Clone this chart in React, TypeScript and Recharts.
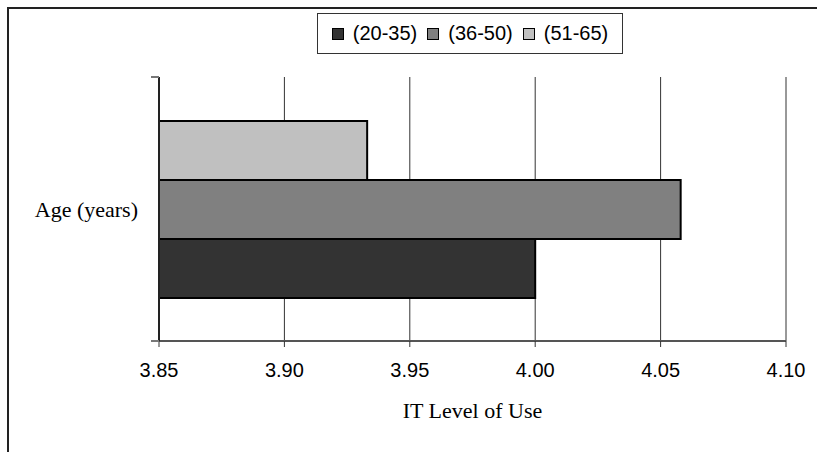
import React from "react";
import {
  BarChart,
  Bar,
  XAxis,
  YAxis,
  CartesianGrid,
} from "recharts";

// Mean IT level of use per age group
const categories = ["Age (years)"];
const ageGroups = ["(20-35)", "(36-50)", "(51-65)"];
const useLevels = [4.0, 4.058, 3.933];
const groupColors = ["#333333", "#808080", "#c0c0c0"];
const xTicks = [3.85, 3.9, 3.95, 4.0, 4.05, 4.1];

const data = categories.map((cat) => {
  const row: any = { category: cat };
  ageGroups.forEach((g, i) => {
    row[g] = useLevels[i];
  });
  return row;
});

const SANS = "'Liberation Sans', Arial, sans-serif";
const SERIF = "'Liberation Serif', 'Times New Roman', serif";

// Category label plus the small marks at the band edges
function CategoryTick(props: any) {
  const { x, y, payload } = props;
  const half = payload?.offset ?? 132;
  const axisX = x + 21;
  return (
    <g>
      <line x1={axisX - 8} x2={axisX} y1={y - half} y2={y - half} stroke="#777" strokeWidth={2} />
      <line x1={axisX - 8} x2={axisX} y1={y + half} y2={y + half} stroke="#777" strokeWidth={2} />
      <text
        x={x}
        y={y}
        dy="0.35em"
        textAnchor="end"
        fontFamily={SERIF}
        fontSize={22}
        fill="#000"
      >
        {payload.value}
      </text>
    </g>
  );
}

function LegendBox() {
  return (
    <div
      style={{
        position: "absolute",
        top: 13,
        left: 317,
        display: "flex",
        alignItems: "center",
        justifyContent: "center",
        gap: 10,
        border: "1px solid #333",
        height: 39,
        width: 304,
        boxSizing: "content-box",
        background: "#fff",
        fontFamily: SANS,
        fontSize: 20,
        color: "#000",
        zIndex: 2,
      }}
    >
      {ageGroups.map((g, i) => (
        <div key={g} style={{ display: "flex", alignItems: "center", gap: 9 }}>
          <span
            style={{
              width: 10,
              height: 10,
              background: groupColors[i],
              border: "1px solid #000",
              display: "inline-block",
            }}
          />
          <span>{g}</span>
        </div>
      ))}
    </div>
  );
}

export default function App() {
  // draw top to bottom: oldest group first
  const order = [2, 1, 0];
  return (
    <div
      style={{
        position: "absolute",
        left: 0,
        top: 0,
        width: 817,
        height: 452,
        background: "#fff",
        overflow: "hidden",
      }}
    >
      <div
        style={{
          position: "absolute",
          left: 7,
          top: 7,
          width: 830,
          height: 460,
          borderLeft: "2px solid #222",
          borderTop: "2px solid #222",
        }}
      />
      <LegendBox />
      <BarChart
        width={817}
        height={452}
        data={data}
        layout="vertical"
        margin={{ top: 77, right: 31, bottom: 0, left: 0 }}
        barCategoryGap="16.7%"
        barGap={0}
      >
        <CartesianGrid horizontal={false} stroke="#333" strokeWidth={1} />
        <XAxis
          type="number"
          domain={[3.85, 4.1]}
          ticks={xTicks}
          interval={0}
          height={111}
          tickFormatter={(v: number) => v.toFixed(2)}
          axisLine={{ stroke: "#555", strokeWidth: 2 }}
          tickLine={{ stroke: "#333" }}
          tickSize={6}
          tickMargin={16}
          tick={{ fontFamily: SANS, fontSize: 20, fill: "#000" }}
          label={{
            value: "IT Level of Use",
            position: "insideBottom",
            offset: 34,
            style: { fontFamily: SERIF, fontSize: 22, fill: "#000" },
          }}
        />
        <YAxis
          type="category"
          dataKey="category"
          width={159}
          axisLine={{ stroke: "#222", strokeWidth: 2 }}
          tickLine={false}
          tickSize={0}
          tickMargin={21}
          tick={<CategoryTick />}
        />
        {order.map((i) => (
          <Bar
            key={ageGroups[i]}
            dataKey={ageGroups[i]}
            fill={groupColors[i]}
            stroke="#000"
            strokeWidth={2}
            isAnimationActive={false}
          />
        ))}
      </BarChart>
    </div>
  );
}
